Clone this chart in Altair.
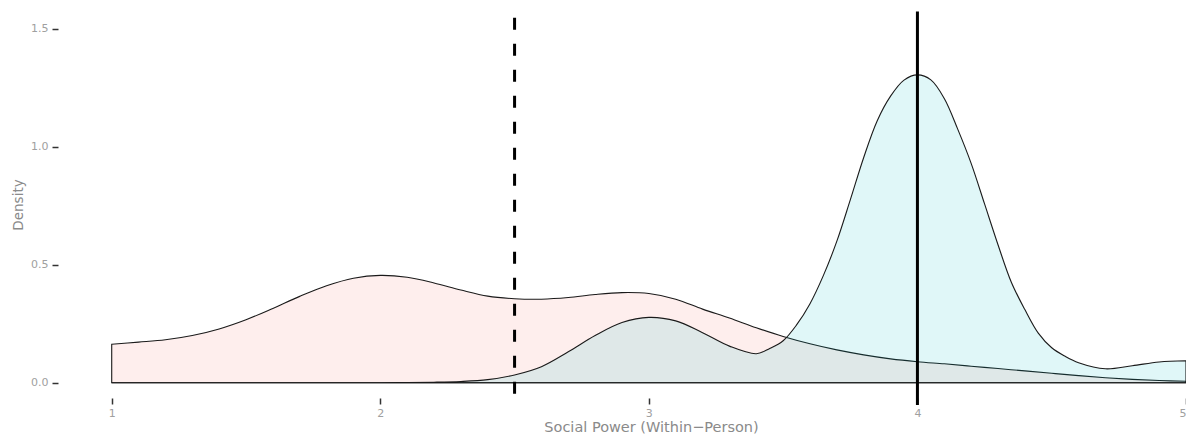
import altair as alt
import pandas as pd

# Pink series (group A) density
pink_x = [1.0, 1.1, 1.2, 1.3, 1.4, 1.5, 1.6, 1.7, 1.8, 1.9, 2.0, 2.1, 2.2, 2.3, 2.4,
          2.5, 2.6, 2.7, 2.8, 2.9, 3.0, 3.1, 3.2, 3.3, 3.4, 3.5, 3.6, 3.7, 3.8, 3.9,
          4.0, 4.1, 4.2, 4.3, 4.4, 4.5, 4.6, 4.7, 4.8, 4.9, 5.0]
pink_y = [0.163, 0.172, 0.182, 0.200, 0.228, 0.267, 0.315, 0.366, 0.411, 0.443, 0.455,
          0.447, 0.423, 0.393, 0.367, 0.356, 0.354, 0.361, 0.374, 0.382, 0.378, 0.354,
          0.312, 0.274, 0.233, 0.196, 0.165, 0.139, 0.118, 0.101, 0.089, 0.080, 0.070,
          0.060, 0.050, 0.040, 0.030, 0.021, 0.014, 0.009, 0.006]

# Blue series (group B) density
blue_x = [1.0, 1.2, 1.4, 1.6, 1.8, 2.0, 2.1, 2.2, 2.3, 2.4, 2.5, 2.6, 2.7, 2.8, 2.9, 3.0,
          3.1, 3.2, 3.3, 3.4, 3.45, 3.5, 3.55, 3.6, 3.65, 3.7, 3.75, 3.8, 3.85, 3.9, 3.95,
          4.0, 4.05, 4.1, 4.15, 4.2, 4.25, 4.3, 4.35, 4.4, 4.45, 4.5, 4.55, 4.6, 4.7, 4.8,
          4.9, 5.0]
blue_y = [0.0, 0.0, 0.0, 0.0, 0.0, 0.0, 0.001, 0.002, 0.005, 0.013, 0.033, 0.068, 0.131,
          0.200, 0.255, 0.277, 0.262, 0.212, 0.155, 0.123, 0.145, 0.178, 0.245, 0.335,
          0.455, 0.600, 0.775, 0.955, 1.110, 1.215, 1.283, 1.305, 1.284, 1.205, 1.075,
          0.930, 0.758, 0.585, 0.425, 0.310, 0.210, 0.148, 0.112, 0.085, 0.059, 0.072,
          0.088, 0.093]

groups = ["A", "B"]
fill_colors = ["#F8766D", "#00BFC4"]

# Reference lines: position, top and bottom extents (data units)
vline_x = [2.5, 4.0]
vline_top = [1.547, 1.574]
vline_bottom = [-0.073, -0.095]

x_ticks = [1, 2, 3, 4, 5]
y_ticks = [0.0, 0.5, 1.0, 1.5]

dens = pd.DataFrame(
    {"x": pink_x + blue_x,
     "density": pink_y + blue_y,
     "group": ["A"] * len(pink_x) + ["B"] * len(blue_x)}
)

font = "DejaVu Sans"

xscale = alt.Scale(domain=[0.8, 5.0], nice=False, zero=False)
yscale = alt.Scale(domain=[-0.0649, 1.576], nice=False, zero=False)

areas = alt.Chart(dens).mark_area(
    interpolate="catmull-rom", stroke="#1a1a1a", strokeWidth=1.1, fillOpacity=0.12
).encode(
    x=alt.X("x:Q", scale=xscale,
            axis=alt.Axis(values=x_ticks, format="d",
                          title="Social Power (Within\u2212Person)",
                          grid=False, domain=False, tickColor="#333333",
                          tickWidth=1.5, tickSize=6, labelPadding=3, labelFlush=1,
                          labelFont=font, labelFontSize=11, labelColor="#a0a0a0",
                          titleFont=font, titleFontSize=14.5, titleFontWeight="normal",
                          titleColor="#8a8a8a", titleX=593, titlePadding=2)),
    y=alt.Y("density:Q", scale=yscale, stack=None,
            axis=alt.Axis(values=y_ticks, format=".1f", title="Density",
                          grid=False, domain=False, tickColor="#333333",
                          tickWidth=1.5, tickSize=6, labelPadding=4,
                          labelFont=font, labelFontSize=11, labelColor="#a0a0a0",
                          titleFont=font, titleFontSize=13.5, titleFontWeight="normal",
                          titleColor="#8a8a8a", titlePadding=5)),
    color=alt.Color("group:N", scale=alt.Scale(domain=groups, range=fill_colors),
                    legend=None),
    order=alt.Order("group:N"),
)

vdf_dash = pd.DataFrame({"x": [vline_x[0]], "top": [vline_top[0]], "bottom": [vline_bottom[0]]})
vdf_solid = pd.DataFrame({"x": [vline_x[1]], "top": [vline_top[1]], "bottom": [vline_bottom[1]]})

dash_rule = alt.Chart(vdf_dash).mark_rule(
    color="black", strokeWidth=3, strokeDash=[12, 14]
).encode(x=alt.X("x:Q", scale=xscale), y=alt.Y("top:Q", scale=yscale),
         y2="bottom:Q")

solid_rule = alt.Chart(vdf_solid).mark_rule(
    color="black", strokeWidth=3
).encode(x=alt.X("x:Q", scale=xscale), y=alt.Y("top:Q", scale=yscale),
         y2="bottom:Q")

chart = alt.layer(areas, dash_rule, solid_rule).properties(
    width=1128, height=387,
    autosize=alt.AutoSizeParams(type="none"),
    padding={"left": 50, "top": 3, "right": 0, "bottom": 40},
).configure_view(stroke=None)

chart.save("out.html", embed_options={"renderer": "svg", "actions": False})
